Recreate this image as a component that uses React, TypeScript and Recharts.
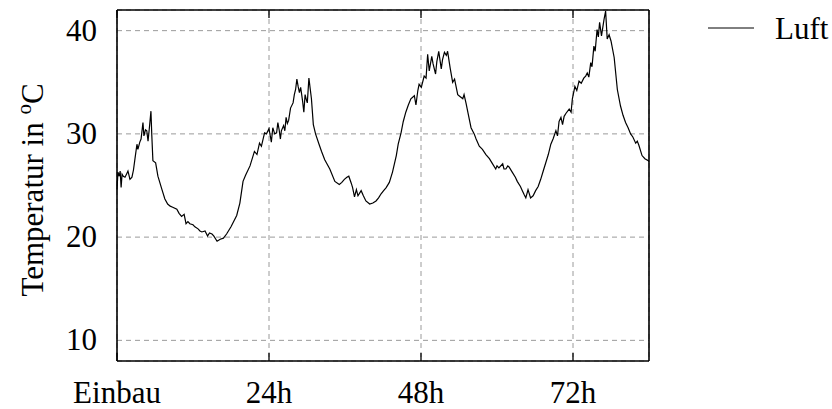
import React from 'react';
import { LineChart, Line, XAxis, YAxis, CartesianGrid, Legend } from 'recharts';

// hours since installation, air temperature in °C
const day1: [number, number][] = [
  [0, 24.6], [0.15, 26.3], [0.35, 25.9], [0.5, 26.4], [0.65, 24.8], [0.8, 26.1], [1.0, 25.9],
  [1.26, 25.8], [1.5, 26.1], [1.73, 26.4], [2.05, 25.6], [2.36, 25.8], [2.6, 26.5], [2.84, 27.6],
  [3.15, 29.0], [3.3, 28.5], [3.6, 29.2], [3.8, 29.5], [4.1, 31.1], [4.25, 29.8], [4.5, 30.4],
  [4.7, 30.3], [4.9, 29.3], [5.1, 30.5], [5.36, 32.2], [5.5, 29.8], [5.67, 27.4], [6.1, 27.2],
  [6.46, 25.9], [7.1, 24.6], [7.56, 23.7], [8.0, 23.2], [8.4, 23.0], [8.8, 22.9], [9.45, 22.7],
  [9.8, 22.3], [10.2, 22.0], [10.6, 22.2], [10.9, 21.3], [11.2, 21.5], [11.5, 21.3], [12.0, 21.2],
  [12.3, 21.0], [12.8, 20.8], [13.1, 20.6], [13.4, 20.5], [13.9, 20.6], [14.3, 20.1], [14.6, 20.4],
  [15.0, 20.3], [15.3, 20.1], [15.8, 19.6], [16.3, 19.8], [16.8, 19.9], [17.3, 20.3], [18.0, 21.0],
  [18.9, 22.1], [19.4, 23.3], [19.9, 25.4], [20.3, 26.0], [21.0, 26.9], [21.7, 28.3], [22.1, 28.0],
  [22.5, 29.1], [22.8, 28.8], [23.3, 30.1], [23.6, 30.0],
];

const day2: [number, number][] = [
  [24.0, 30.5], [24.37, 29.2], [24.6, 30.6], [24.9, 30.0], [25.2, 30.1], [25.4, 31.1], [25.6, 30.4],
  [25.8, 29.5], [25.95, 30.3], [26.3, 30.8], [26.5, 30.3], [26.7, 31.6], [26.9, 31.0], [27.1, 31.3],
  [27.4, 32.5], [27.8, 33.0], [28.0, 33.8], [28.2, 34.3], [28.4, 35.3], [28.6, 34.6], [28.8, 34.0],
  [29.0, 34.5], [29.3, 33.2], [29.5, 32.1], [29.7, 33.8], [29.9, 33.3], [30.05, 33.0], [30.3, 35.4],
  [30.7, 33.4], [31.0, 30.9], [31.35, 30.0], [31.9, 29.0], [32.3, 28.3], [32.8, 27.5], [33.6, 26.6],
  [34.4, 25.4], [35.1, 25.1], [35.5, 25.3], [35.9, 25.6], [36.3, 25.8], [36.6, 25.9], [37.0, 25.2],
  [37.2, 24.8], [37.5, 23.9], [37.8, 24.6], [38.05, 24.0], [38.55, 24.5], [38.9, 24.0], [39.3, 23.5],
  [39.9, 23.2], [40.4, 23.3], [40.9, 23.5], [41.3, 23.8], [41.7, 24.2], [42.1, 24.5], [42.5, 24.8],
  [43.0, 25.3], [43.5, 26.3], [44.1, 27.9], [44.4, 29.0], [44.85, 30.1], [45.2, 31.2], [45.6, 32.1],
  [46.0, 32.8], [46.4, 33.4], [46.95, 33.7], [47.2, 32.8], [47.5, 34.2], [47.7, 34.8],
];

const day3: [number, number][] = [
  [48.05, 34.5], [48.5, 35.6], [48.8, 35.4], [49.05, 37.7], [49.3, 36.1], [49.7, 37.5], [49.9, 36.8],
  [50.3, 35.8], [50.5, 37.0], [50.8, 38.0], [51.2, 36.3], [51.4, 37.2], [51.7, 37.9], [52.0, 37.6],
  [52.2, 38.0], [52.6, 36.4], [53.0, 35.0], [53.3, 35.3], [53.8, 33.8], [54.2, 33.6], [54.6, 33.4],
  [54.8, 33.8], [55.1, 33.0], [55.5, 31.8], [55.9, 30.6], [56.4, 30.0], [56.7, 29.5], [57.2, 28.8],
  [57.7, 28.5], [58.25, 28.0], [58.8, 27.6], [59.3, 27.1], [59.8, 26.6], [60.0, 26.9], [60.3, 26.7],
  [60.9, 27.1], [61.1, 26.6], [61.4, 26.6], [61.7, 26.9], [61.9, 26.8], [62.4, 26.3], [62.9, 25.8],
  [63.2, 25.4], [63.7, 24.9], [64.0, 24.5], [64.3, 24.1], [64.55, 23.8], [64.9, 24.6], [65.3, 23.8],
  [65.7, 24.0], [66.1, 24.5], [66.5, 24.9], [66.9, 25.6], [67.3, 26.4], [67.7, 27.2], [68.1, 28.0],
  [68.5, 29.0], [68.85, 29.5], [69.3, 30.3], [69.55, 29.8], [69.8, 31.2], [70.1, 31.6], [70.35, 30.9],
  [70.6, 31.7], [70.9, 32.0], [71.4, 32.4], [71.7, 32.1], [71.9, 33.4],
];

const day4: [number, number][] = [
  [72.3, 34.6], [72.6, 34.2], [72.95, 35.1], [73.3, 34.9], [73.7, 35.4], [74.0, 35.6], [74.25, 35.9],
  [74.5, 35.5], [74.8, 36.9], [75.0, 36.5], [75.3, 38.5], [75.5, 38.0], [75.8, 40.1], [76.0, 39.4],
  [76.2, 40.8], [76.5, 39.5], [76.9, 41.1], [77.15, 41.9], [77.4, 39.2], [77.7, 39.6], [78.0, 39.0],
  [78.5, 37.4], [79.0, 34.3], [79.5, 32.7], [79.9, 31.8], [80.3, 31.1], [80.7, 30.6], [81.1, 30.0],
  [81.45, 29.7], [81.9, 29.1], [82.15, 29.3], [82.4, 28.9], [82.9, 27.9], [83.35, 27.6], [83.9, 27.4],
  [84.0, 27.3],
];

const xTicks = [0, 24, 48, 72];
const xTickLabels = ['Einbau', '24h', '48h', '72h'];
const yTicks = [10, 20, 30, 40];
const seriesName = 'Luft';

const data = [...day1, ...day2, ...day3, ...day4].map(([h, t]) => ({ h, luft: t }));

const FONT = '"Liberation Serif", "Times New Roman", serif';
const FS = 31;

const XTick = ({ x, payload }: any) => (
  <text x={x} y={403} textAnchor="middle" fontFamily={FONT} fontSize={FS} fill="#000">
    {xTickLabels[xTicks.indexOf(payload.value)]}
  </text>
);

const YTick = ({ x, y, payload }: any) => (
  <text x={x - 20} y={y + 10} textAnchor="end" fontFamily={FONT} fontSize={FS} fill="#000">
    {payload.value}
  </text>
);

// inward tick marks only, no labels
const NoLabel = () => <g />;

const YLabel = () => (
  <text
    x={43}
    y={190}
    transform="rotate(-90, 43, 190)"
    textAnchor="middle"
    fontFamily={FONT}
    fontSize={FS}
    fill="#000"
  >
    Temperatur in <tspan dy={-12} fontSize={21}>o</tspan>
    <tspan dy={12}>C</tspan>
  </text>
);

const LegendContent = () => (
  <svg width={132} height={50}>
    <line x1={8} y1={24} x2={54} y2={24} stroke="#000" strokeWidth={1} />
    <text x={75} y={35} fontFamily={FONT} fontSize={FS} fill="#000">
      {seriesName}
    </text>
  </svg>
);

export default function App() {
  const frame = { stroke: '#000', strokeWidth: 1.6 };
  const tickMark = { stroke: '#000', strokeWidth: 1.3 };
  return (
    <div style={{ position: 'absolute', left: 0, top: 0, width: 832, height: 409, background: '#fff' }}>
      <LineChart width={832} height={409} data={data} margin={{ top: 10, right: 183, bottom: 0, left: 0 }}>
        <CartesianGrid stroke="#9a9a9a" strokeDasharray="5 4" strokeWidth={1} />
        <XAxis
          dataKey="h"
          type="number"
          domain={[0, 84]}
          ticks={xTicks}
          height={48}
          axisLine={frame}
          tickLine={false}
          tickSize={0}
          tickMargin={0}
          tick={<XTick />}
          interval={0}
        />
        <XAxis xAxisId="bm" dataKey="h" type="number" domain={[0, 84]} ticks={xTicks} mirror orientation="bottom"
          axisLine={false} tickLine={tickMark} tickSize={8} tick={<NoLabel />} interval={0} />
        <XAxis xAxisId="tm" dataKey="h" type="number" domain={[0, 84]} ticks={xTicks} mirror orientation="top"
          axisLine={frame} tickLine={tickMark} tickSize={8} tick={<NoLabel />} interval={0} />
        <YAxis
          type="number"
          domain={[8, 42]}
          ticks={yTicks}
          width={117}
          axisLine={frame}
          tickLine={false}
          tickSize={0}
          tickMargin={0}
          tick={<YTick />}
          interval={0}
          label={<YLabel />}
        />
        <YAxis yAxisId="lm" type="number" domain={[8, 42]} ticks={yTicks} mirror orientation="left"
          axisLine={false} tickLine={tickMark} tickSize={8} tick={<NoLabel />} interval={0} />
        <YAxis yAxisId="rm" type="number" domain={[8, 42]} ticks={yTicks} mirror orientation="right"
          axisLine={frame} tickLine={tickMark} tickSize={8} tick={<NoLabel />} interval={0} />
        <Legend
          layout="vertical"
          align="center"
          verticalAlign="middle"
          content={<LegendContent />}
          wrapperStyle={{ position: 'absolute', left: 700, top: 4, width: 132, height: 50 }}
        />
        <Line
          type="linear"
          dataKey="luft"
          name={seriesName}
          stroke="#000"
          strokeWidth={1.2}
          dot={false}
          isAnimationActive={false}
        />
      </LineChart>
    </div>
  );
}
